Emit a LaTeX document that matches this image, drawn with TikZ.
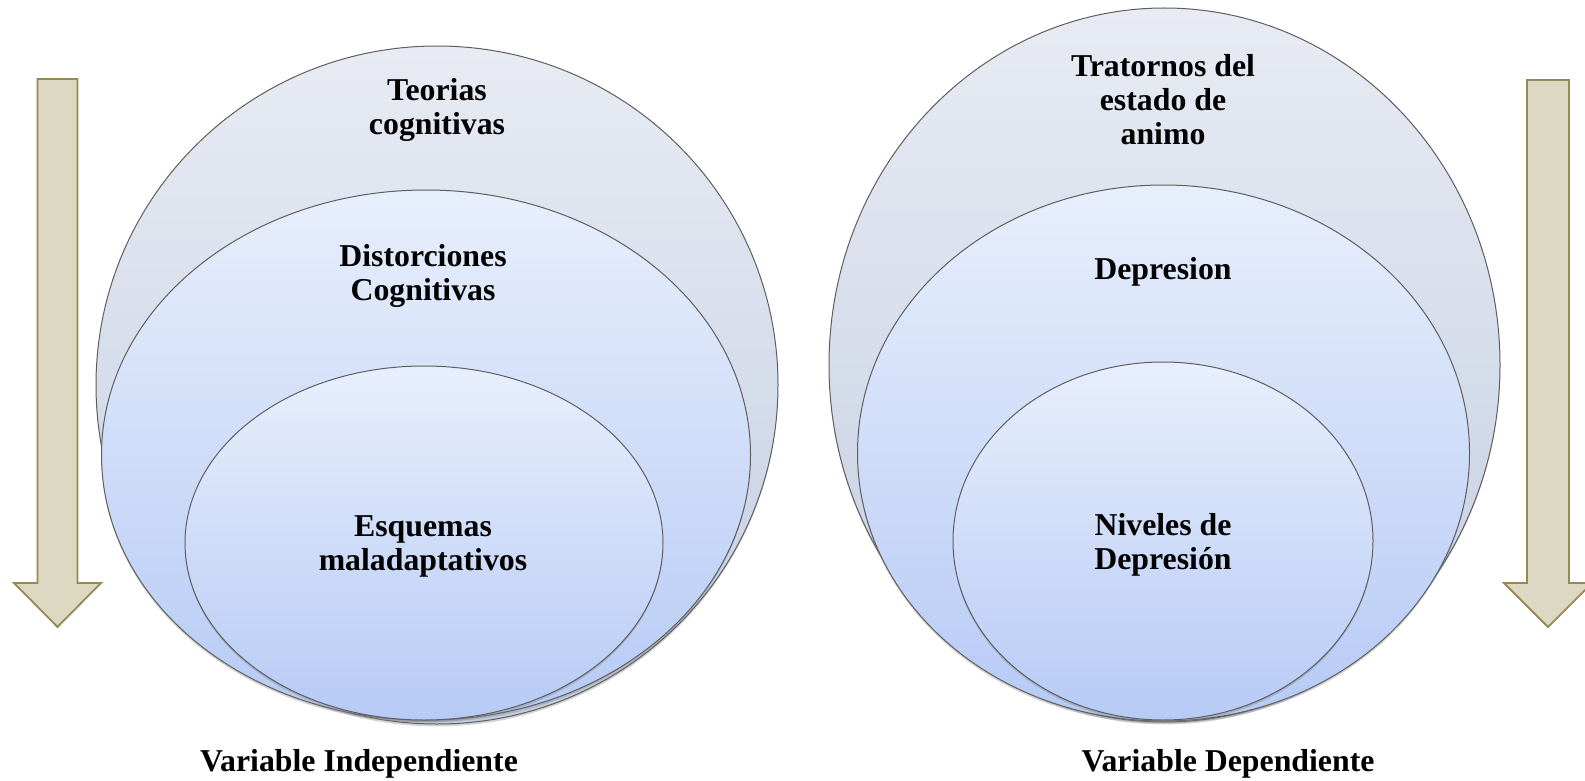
\documentclass[tikz,border=0pt]{standalone}
\usepackage{fontspec}
\setmainfont{Liberation Serif}
\usetikzlibrary{shapes.geometric,shadows}
\definecolor{outtop}{HTML}{E8EBF3}
\definecolor{outbot}{HTML}{C3CEE2}
\definecolor{midtop}{HTML}{E8EFFC}
\definecolor{midbot}{HTML}{B6CAF5}
\definecolor{edge}{HTML}{5E5E5E}
\definecolor{arrfill}{HTML}{DDD8C2}
\definecolor{arredge}{HTML}{948A54}
\tikzset{
  circ/.style={ellipse, draw=edge, line width=0.5pt, inner sep=0pt,
    drop shadow={opacity=0.35, shadow xshift=0pt, shadow yshift=-1.2pt}},
  outerc/.style={circ, top color=outtop, bottom color=outbot},
  innerc/.style={circ, top color=midtop, bottom color=midbot},
  lbl/.style={font=\fontsize{15.9pt}{17pt}\selectfont\bfseries, align=center, inner sep=0pt},
  downarrow/.style={fill=arrfill, draw=arredge, line width=0.9pt, line join=miter},
}
\begin{document}
\begin{tikzpicture}[x=0.5pt, y=-0.5pt]
\useasboundingbox (0,0) rectangle (1585,781);
% arrows
\draw[downarrow] (37.5,79) -- (77.5,79) -- (77.5,583) -- (101,583) -- (57.5,627) -- (14,583) -- (37.5,583) -- cycle;
\draw[downarrow] (1527,80) -- (1569,80) -- (1569,583) -- (1592,583) -- (1548,627) -- (1504,583) -- (1527,583) -- cycle;
% left set
\node[outerc, minimum width=341pt, minimum height=339pt] (lo) at (437,385) {};
\node[innerc, minimum width=324.5pt, minimum height=265pt] (lm) at (426,455) {};
\node[innerc, minimum width=239pt, minimum height=177pt] (li) at (424,543) {};
% right set
\node[outerc, minimum width=335.5pt, minimum height=357pt] (ro) at (1164.5,365) {};
\node[innerc, minimum width=306pt, minimum height=268pt] (rm) at (1163.5,453) {};
\node[innerc, minimum width=210pt, minimum height=179pt] (ri) at (1163,541) {};
% labels
\node[lbl] (t1) at (437,110) {Teorias\\cognitivas};
\node[lbl] (t2) at (423,276) {Distorciones\\Cognitivas};
\node[lbl] (t3) at (423,546) {Esquemas\\maladaptativos};
\node[lbl] (t4) at (1163,100) {Tratornos del\\estado de\\animo};
\node[lbl] (t5) at (1163,272) {Depresion};
\node[lbl] (t6) at (1163,545) {Niveles de\\Depresión};
\node[lbl] (v1) at (359,764) {Variable Independiente};
\node[lbl] (v2) at (1228,764) {Variable Dependiente};
\end{tikzpicture}
\end{document}
